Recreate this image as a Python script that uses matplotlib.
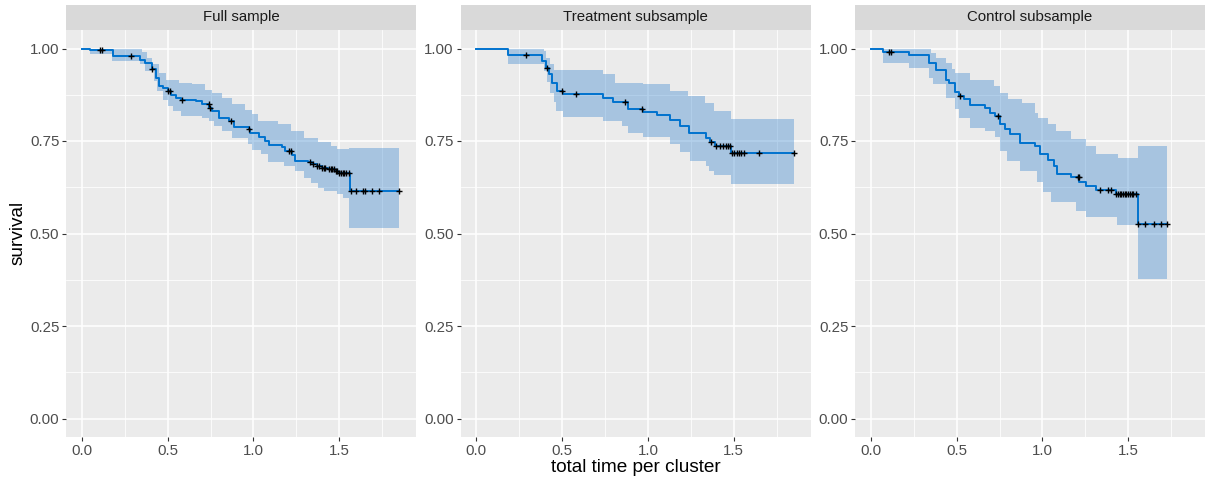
import numpy as np
import matplotlib
matplotlib.use("Agg")
import matplotlib.pyplot as plt
from matplotlib.ticker import MultipleLocator

plt.rcParams['font.family'] = ['Liberation Sans', 'DejaVu Sans']

# Full sample: KM steps, CI steps, censor times
full_t = [0, 0.046, 0.18, 0.336, 0.365, 0.41, 0.432, 0.45, 0.47, 0.5, 0.52, 0.548, 0.577, 0.664, 0.70,
          0.741, 0.76, 0.80, 0.857, 0.886, 0.973, 0.98, 1.03, 1.07, 1.09, 1.166, 1.185, 1.224, 1.243,
          1.32, 1.34, 1.369, 1.398, 1.436, 1.475, 1.494, 1.562]
full_s = [1.0, 0.995, 0.979, 0.970, 0.961, 0.944, 0.921, 0.899, 0.894, 0.885, 0.874, 0.867, 0.861, 0.858,
          0.849, 0.840, 0.832, 0.812, 0.803, 0.789, 0.782, 0.771, 0.760, 0.751, 0.739, 0.733, 0.724, 0.711,
          0.697, 0.693, 0.688, 0.682, 0.677, 0.673, 0.668, 0.663, 0.615]
full_up_t = [0, 0.35, 0.38, 0.41, 0.45, 0.488, 0.565, 0.642, 0.719, 0.76, 0.815, 0.873, 0.95, 0.99, 1.027,
             1.143, 1.22, 1.297, 1.374, 1.451, 1.49, 1.557]
full_up = [1.0, 0.99, 0.975, 0.957, 0.934, 0.916, 0.907, 0.903, 0.889, 0.880, 0.867, 0.849, 0.835, 0.822,
           0.804, 0.795, 0.777, 0.759, 0.746, 0.737, 0.728, 0.730]
full_lo_t = [0, 0.046, 0.175, 0.34, 0.37, 0.42, 0.44, 0.47, 0.50, 0.53, 0.575, 0.70, 0.74, 0.77, 0.815,
             0.873, 0.97, 0.99, 1.047, 1.085, 1.18, 1.24, 1.297, 1.336, 1.374, 1.41, 1.49, 1.52, 1.557]
full_lo = [1.0, 0.984, 0.967, 0.957, 0.939, 0.912, 0.885, 0.862, 0.844, 0.831, 0.817, 0.813, 0.804, 0.790,
           0.777, 0.759, 0.741, 0.727, 0.714, 0.692, 0.683, 0.670, 0.651, 0.637, 0.624, 0.615, 0.606, 0.597,
           0.516]
full_cens = [0.105, 0.12, 0.285, 0.41, 0.50, 0.515, 0.585, 0.74, 0.745, 0.87, 0.975, 1.21, 1.22, 1.33,
             1.345, 1.37, 1.38, 1.40, 1.41, 1.42, 1.44, 1.45, 1.46, 1.47, 1.48, 1.49, 1.50, 1.51, 1.52,
             1.53, 1.54, 1.56, 1.57, 1.60, 1.64, 1.65, 1.69, 1.73, 1.85]
full_end = 1.85

# Treatment subsample
trt_t = [0, 0.183, 0.382, 0.405, 0.424, 0.443, 0.468, 0.507, 0.736, 0.798, 0.883, 0.97, 1.054, 1.128,
         1.185, 1.24, 1.34, 1.36, 1.39, 1.484]
trt_s = [1.0, 0.982, 0.966, 0.948, 0.930, 0.907, 0.885, 0.876, 0.867, 0.856, 0.837, 0.829, 0.820, 0.808,
         0.790, 0.772, 0.759, 0.746, 0.737, 0.717]
trt_up_t = [0, 0.395, 0.405, 0.43, 0.453, 0.736, 0.81, 0.97, 1.128, 1.235, 1.33, 1.385, 1.484]
trt_up = [1.0, 0.993, 0.975, 0.957, 0.941, 0.930, 0.907, 0.903, 0.885, 0.871, 0.853, 0.831, 0.810]
trt_lo_t = [0, 0.183, 0.395, 0.41, 0.43, 0.45, 0.465, 0.507, 0.736, 0.848, 0.886, 0.973, 1.128, 1.185,
            1.243, 1.339, 1.358, 1.387, 1.484]
trt_lo = [1.0, 0.959, 0.94, 0.91, 0.88, 0.855, 0.831, 0.815, 0.804, 0.79, 0.772, 0.761, 0.741, 0.719,
          0.696, 0.683, 0.669, 0.657, 0.633]
trt_cens = [0.29, 0.41, 0.50, 0.58, 0.865, 0.965, 1.37, 1.395, 1.42, 1.44, 1.455, 1.465, 1.48, 1.49,
            1.50, 1.52, 1.53, 1.545, 1.56, 1.65, 1.854]
trt_end = 1.854

# Control subsample
ctl_t = [0, 0.069, 0.22, 0.339, 0.378, 0.436, 0.455, 0.493, 0.513, 0.542, 0.58, 0.667, 0.696, 0.725,
         0.754, 0.783, 0.81, 0.87, 0.956, 0.985, 1.033, 1.07, 1.087, 1.168, 1.216, 1.255, 1.313, 1.43,
         1.557]
ctl_s = [1.0, 0.991, 0.982, 0.960, 0.941, 0.916, 0.907, 0.883, 0.872, 0.863, 0.847, 0.838, 0.827, 0.818,
         0.795, 0.782, 0.768, 0.744, 0.737, 0.714, 0.700, 0.683, 0.662, 0.653, 0.638, 0.629, 0.618, 0.606,
         0.527]
ctl_up_t = [0, 0.35, 0.38, 0.436, 0.47, 0.493, 0.58, 0.715, 0.755, 0.80, 0.88, 0.956, 0.975, 1.033,
            1.08, 1.168, 1.255, 1.313, 1.438, 1.557]
ctl_up = [1.0, 0.988, 0.975, 0.961, 0.945, 0.934, 0.914, 0.899, 0.881, 0.863, 0.854, 0.827, 0.813,
          0.795, 0.777, 0.755, 0.737, 0.714, 0.705, 0.737]
ctl_lo_t = [0, 0.069, 0.22, 0.339, 0.36, 0.436, 0.493, 0.513, 0.58, 0.667, 0.725, 0.754, 0.792, 0.87,
            0.966, 1.004, 1.052, 1.197, 1.255, 1.434, 1.557]
ctl_lo = [1.0, 0.960, 0.946, 0.921, 0.903, 0.867, 0.836, 0.813, 0.784, 0.777, 0.761, 0.723, 0.696,
          0.669, 0.638, 0.611, 0.584, 0.562, 0.544, 0.524, 0.377]
ctl_cens = [0.105, 0.115, 0.52, 0.74, 1.21, 1.215, 1.335, 1.38, 1.40, 1.43, 1.44, 1.45, 1.46, 1.47,
            1.48, 1.49, 1.50, 1.51, 1.52, 1.53, 1.545, 1.557, 1.60, 1.65, 1.69, 1.727]
ctl_end = 1.727

panels = [
    ("Full sample", full_t, full_s, full_up_t, full_up, full_lo_t, full_lo, full_cens, full_end),
    ("Treatment subsample", trt_t, trt_s, trt_up_t, trt_up, trt_lo_t, trt_lo, trt_cens, trt_end),
    ("Control subsample", ctl_t, ctl_s, ctl_up_t, ctl_up, ctl_lo_t, ctl_lo, ctl_cens, ctl_end),
]


def step_at(tt, vv, x):
    idx = np.searchsorted(np.asarray(tt), x, side='right') - 1
    return np.asarray(vv)[idx]


W, H = 1206, 479
fig = plt.figure(figsize=(W / 100, H / 100), dpi=100)
fig.patch.set_facecolor('white')

xmax = 1.855
xlim = (-0.05 * xmax, 1.05 * xmax)
lefts = [66, 460.5, 855]
pw = 350
ptop, pbot = 30, 437
strip_top = 5

line_col = '#0072CE'
band_col = (0.16, 0.49, 0.80)

for (title, t, s, ut, uv, lt, lv, cens, tend), left in zip(panels, lefts):
    ax = fig.add_axes([left / W, 1 - pbot / H, pw / W, (pbot - ptop) / H])
    ax.set_facecolor('#EBEBEB')
    for sp in ax.spines.values():
        sp.set_visible(False)
    ax.set_xlim(*xlim)
    ax.set_ylim(-0.05, 1.05)
    ax.xaxis.set_major_locator(MultipleLocator(0.5))
    ax.xaxis.set_minor_locator(MultipleLocator(0.25))
    ax.yaxis.set_major_locator(MultipleLocator(0.25))
    ax.yaxis.set_minor_locator(MultipleLocator(0.125))
    ax.grid(True, which='major', color='white', lw=1.1)
    ax.grid(True, which='minor', color='white', lw=0.55)
    ax.set_axisbelow(True)
    ax.tick_params(which='minor', length=0)
    ax.tick_params(which='major', length=2.8, width=0.8, color='#333333',
                   labelcolor='#4D4D4D', labelsize=10.8, pad=2)
    ax.set_xticks([0, 0.5, 1.0, 1.5])
    ax.set_xticklabels(['0.0', '0.5', '1.0', '1.5'])
    ax.set_yticks([0, 0.25, 0.5, 0.75, 1.0])
    ax.set_yticklabels(['0.00', '0.25', '0.50', '0.75', '1.00'])

    grid = np.unique(np.concatenate([t, ut, lt, [tend]]))
    up = step_at(ut, uv, grid)
    lo = step_at(lt, lv, grid)
    ax.fill_between(grid, lo, up, step='post', color=band_col, alpha=0.35, lw=0)

    st = list(t) + [tend]
    sv = list(s) + [s[-1]]
    ax.step(st, sv, where='post', color=line_col, lw=1.4)

    cy = step_at(t, s, np.asarray(cens))
    ax.plot(cens, cy, ls='none', marker='+', color='black', ms=5, mew=1.0)

    sax = fig.add_axes([left / W, 1 - ptop / H, pw / W, (ptop - strip_top) / H])
    sax.set_facecolor('#D9D9D9')
    sax.set_xticks([])
    sax.set_yticks([])
    for sp in sax.spines.values():
        sp.set_visible(False)
    sax.text(0.5, 0.5, title, ha='center', va='center', fontsize=10.8, color='#1A1A1A',
             transform=sax.transAxes)

fig.text(18 / W, 1 - 233 / H, 'survival', rotation=90, ha='center', va='center', fontsize=13.7)
fig.text(636 / W, 1 - 467 / H, 'total time per cluster', ha='center', va='center', fontsize=13.7)

fig.savefig('out.png', dpi=100)
